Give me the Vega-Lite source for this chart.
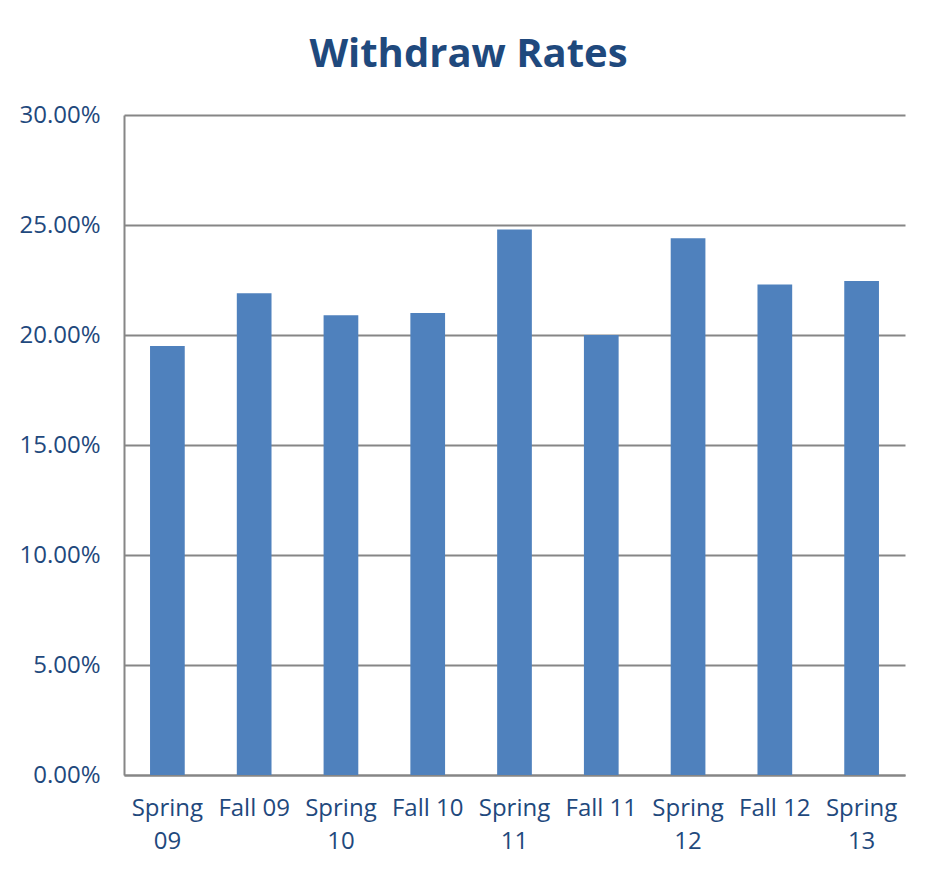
{
  "$schema": "https://vega.github.io/schema/vega-lite/v6.json",
  "autosize": "none",
  "width": 781,
  "height": 660,
  "padding": {"left": 124, "top": 115, "right": 25, "bottom": 102},
  "background": "white",
  "title": {
    "text": "Withdraw Rates",
    "font": "Open Sans",
    "fontSize": 40,
    "fontWeight": "bold",
    "color": "#1F497D",
    "anchor": "middle",
    "dx": -46,
    "offset": 28
  },
  "data": {
    "values": [
      {"term": "Spring 09", "rate": 0.195},
      {"term": "Fall 09", "rate": 0.219},
      {"term": "Spring 10", "rate": 0.209},
      {"term": "Fall 10", "rate": 0.210},
      {"term": "Spring 11", "rate": 0.248},
      {"term": "Fall 11", "rate": 0.200},
      {"term": "Spring 12", "rate": 0.244},
      {"term": "Fall 12", "rate": 0.223},
      {"term": "Spring 13", "rate": 0.2245}
    ]
  },
  "mark": {"type": "bar", "color": "#4F81BD"},
  "encoding": {
    "x": {
      "field": "term",
      "type": "nominal",
      "sort": null,
      "scale": {"paddingInner": 0.6, "paddingOuter": 0.3},
      "axis": {
        "title": null,
        "labelAngle": 0,
        "labelFont": "Open Sans",
        "labelFontSize": 24,
        "labelColor": "#1F497D",
        "labelLineHeight": 33,
        "labelPadding": 21,
        "labelExpr": "indexof(datum.value, 'Spring') === 0 ? split(datum.value, ' ') : datum.value",
        "ticks": false,
        "domainColor": "#868686",
        "domainWidth": 2,
        "grid": false
      }
    },
    "y": {
      "field": "rate",
      "type": "quantitative",
      "scale": {"domain": [0, 0.3]},
      "axis": {
        "title": null,
        "values": [0, 0.05, 0.1, 0.15, 0.2, 0.25, 0.3],
        "format": ".2%",
        "labelFont": "Open Sans",
        "labelFontSize": 24,
        "labelColor": "#1F497D",
        "labelPadding": 24,
        "ticks": false,
        "domainColor": "#868686",
        "domainWidth": 2,
        "grid": true,
        "gridColor": "#868686",
        "gridWidth": 2
      }
    }
  },
  "config": {
    "view": {"stroke": null}
  }
}
